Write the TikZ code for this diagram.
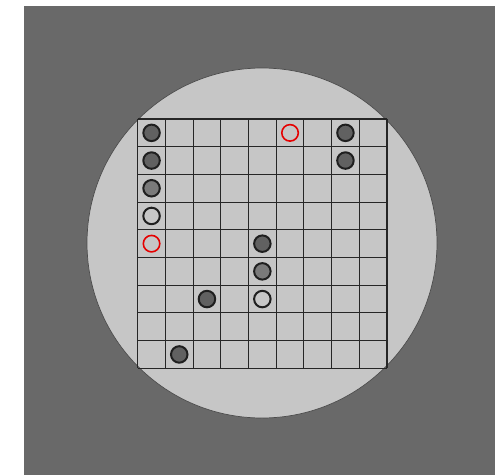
\documentclass[tikz,border=0pt]{standalone}
\begin{document}
\begin{tikzpicture}[x=1pt,y=-1pt,
  plate/.style={fill=platefill,draw=black!70,line width=0.7pt},
  gridline/.style={draw=black!85,line width=1.05pt},
  spot/.style={circle,minimum size=16.5pt,inner sep=0pt,line width=2pt,draw=black!88},
  darkspot/.style={spot,fill=black!62},
  midspot/.style={spot,fill=black!52},
  lightspot/.style={spot,fill=black!22},
  redspot/.style={circle,minimum size=16.5pt,inner sep=0pt,line width=1.6pt,draw=red!90!black,fill=none},
]
\definecolor{platefill}{RGB}{198,198,198}
\definecolor{bgfill}{RGB}{105,105,105}
\useasboundingbox (0,0) rectangle (501,475);
\fill[white] (0,0) rectangle (501,475);
\fill[bgfill] (24,6) rectangle (495,475);
\draw[plate] (262,243) circle (175);
% grid
\def\gx{137.7}\def\gy{119}\def\gs{27.7}
\foreach \i in {0,...,9}{
  \draw[gridline] ({\gx+\i*\gs},\gy) -- ({\gx+\i*\gs},{\gy+9*\gs});
  \draw[gridline] (\gx,{\gy+\i*\gs}) -- ({\gx+9*\gs},{\gy+\i*\gs});
}
% spots: (col,row)
\foreach \c/\r/\s/\n in {0/0/darkspot/a,0/1/darkspot/b,0/2/midspot/c,0/3/lightspot/d,
  7/0/darkspot/e,7/1/darkspot/f,4/4/darkspot/g,4/5/midspot/h,4/6/lightspot/i,
  2/6/darkspot/j,1/8/darkspot/k,0/4/redspot/l,5/0/redspot/m}{
  \node[\s] (\n) at ({\gx+(\c+0.5)*\gs},{\gy+(\r+0.5)*\gs}) {};
}
\end{tikzpicture}
\end{document}
